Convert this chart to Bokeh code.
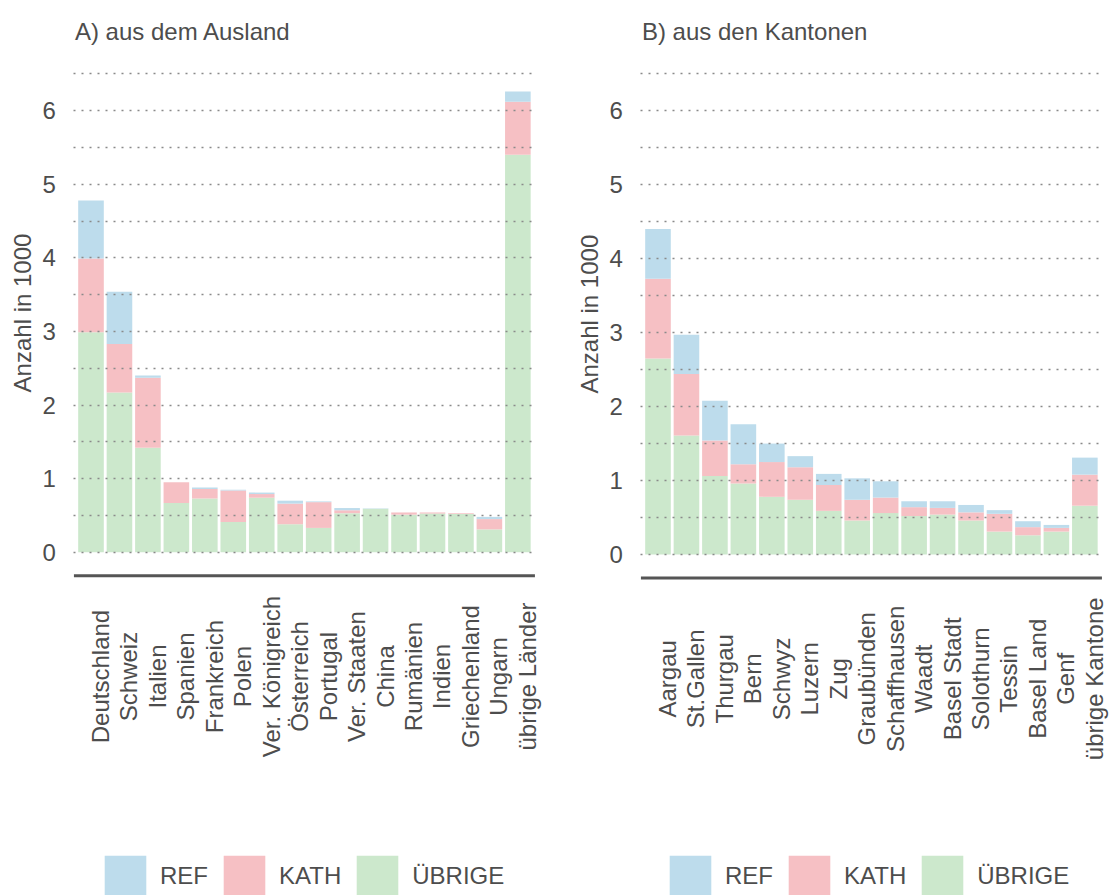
import math
from bokeh.plotting import figure
from bokeh.models import FixedTicker, Legend, LegendItem, ColumnDataSource, Range1d
from bokeh.layouts import row
from bokeh.embed import file_html
from bokeh.resources import INLINE
from bokeh.core.properties import value

# ---------------- data (Anzahl in 1000) ----------------
laender = ["Deutschland", "Schweiz", "Italien", "Spanien", "Frankreich", "Polen",
           "Ver. Königreich", "Österreich", "Portugal", "Ver. Staaten", "China",
           "Rumänien", "Indien", "Griechenland", "Ungarn", "übrige Länder"]
ausland_uebrige = [2.99, 2.17, 1.42, 0.67, 0.73, 0.41, 0.74, 0.38, 0.33, 0.53, 0.59, 0.51, 0.525, 0.52, 0.31, 5.40]
ausland_kath    = [1.00, 0.66, 0.95, 0.28, 0.13, 0.43, 0.05, 0.28, 0.35, 0.04, 0.00, 0.03, 0.015, 0.01, 0.14, 0.72]
ausland_ref     = [0.79, 0.71, 0.03, 0.00, 0.02, 0.01, 0.02, 0.04, 0.01, 0.03, 0.005, 0.00, 0.00, 0.00, 0.03, 0.14]

kantone = ["Aargau", "St.Gallen", "Thurgau", "Bern", "Schwyz", "Luzern", "Zug",
           "Graubünden", "Schaffhausen", "Waadt", "Basel Stadt", "Solothurn",
           "Tessin", "Basel Land", "Genf", "übrige Kantone"]
kantone_uebrige = [2.65, 1.61, 1.06, 0.96, 0.78, 0.74, 0.59, 0.46, 0.56, 0.52, 0.54, 0.46, 0.31, 0.26, 0.31, 0.66]
kantone_kath    = [1.08, 0.83, 0.48, 0.26, 0.47, 0.44, 0.35, 0.28, 0.21, 0.12, 0.09, 0.11, 0.24, 0.11, 0.05, 0.42]
kantone_ref     = [0.67, 0.53, 0.54, 0.54, 0.25, 0.15, 0.15, 0.29, 0.22, 0.08, 0.09, 0.10, 0.05, 0.08, 0.04, 0.23]

y_ticks = [0, 1, 2, 3, 4, 5, 6]
grid_ticks = [0, 0.5, 1, 1.5, 2, 2.5, 3, 3.5, 4, 4.5, 5, 5.5, 6, 6.5]
y_title = "Anzahl in 1000"
series = ["ÜBRIGE", "KATH", "REF"]
legend_order = ["REF", "KATH", "ÜBRIGE"]
colors = {"REF": "#bddcec", "KATH": "#f6c0c4", "ÜBRIGE": "#cce8cc"}

FONT = "Liberation Sans"
TXT = "#4d4d4d"
H = 895
PX_X = 28.457        # pixels per category step
PAD = 0.6            # plot area padding left of first / right of last bar (category units)


def panel(title, cats, ueb, kath, ref, width, first_center_px, zero_px, px_per_unit, legend_x):
    n = len(cats)
    x0 = -first_center_px / PX_X
    y1 = zero_px / px_per_unit
    y0 = -(H - zero_px) / px_per_unit
    src = ColumnDataSource(dict(pos=list(range(n)), cat=cats,
                                **{"ÜBRIGE": ueb, "KATH": kath, "REF": ref}))
    p = figure(x_range=Range1d(x0, x0 + width / PX_X), y_range=Range1d(y0, y1),
               frame_width=width, frame_height=H, min_border=0,
               output_backend="svg", toolbar_location=None)
    p.axis.visible = False
    p.xgrid.visible = False
    p.outline_line_color = None
    p.background_fill_color = "white"
    p.border_fill_color = "white"

    # dotted horizontal grid limited to the plotting area
    p.ygrid.ticker = FixedTicker(ticks=grid_ticks)
    p.ygrid.cross_bounds = (-PAD, n - 0.5)
    p.ygrid.grid_line_color = "#8a8a8a"
    p.ygrid.grid_line_width = 1.6
    p.ygrid.grid_line_dash = "2 6"
    p.ygrid.level = "overlay"

    rs = p.vbar_stack(series, x="pos", width=0.9, source=src,
                      color=[colors[s] for s in series], line_color=None)

    # x axis line (below the zero line)
    base_y = -23.5 / px_per_unit
    p.segment(x0=[-PAD], x1=[n - 1 + PAD], y0=[base_y], y1=[base_y],
              line_color="#555555", line_width=3)

    # y tick labels and y title
    p.text(x=[-PAD] * len(y_ticks), y=y_ticks, text=[str(t) for t in y_ticks],
           x_offset=-18, text_align="right", text_baseline="middle",
           text_font=value(FONT), text_font_size="24px", text_color=TXT)
    p.text(x=[-PAD], y=[(grid_ticks[0] + grid_ticks[-1]) / 2], text=[y_title],
           x_offset=-51, angle=math.pi / 2, text_align="center", text_baseline="alphabetic",
           text_font=value(FONT), text_font_size="24px", text_color=TXT)

    # panel title
    p.text(x=[-PAD], y=[grid_ticks[-1]], text=[title], x_offset=1, y_offset=-42,
           text_align="left", text_baseline="alphabetic",
           text_font=value(FONT), text_font_size="24px", text_color=TXT)

    # category labels, rotated, centred
    p.text(x="pos", y=0, text="cat", source=src, angle=math.pi / 2,
           x_offset=9.5, y_offset=124.3, text_align="center", text_baseline="alphabetic",
           text_font=value(FONT), text_font_size="24px", text_color=TXT)

    by_name = dict(zip(series, rs))
    legend = Legend(items=[LegendItem(label=k, renderers=[by_name[k]]) for k in legend_order],
                    orientation="horizontal", location=(legend_x, -7),
                    glyph_width=52, glyph_height=52, label_standoff=9, spacing=10,
                    padding=0, margin=0, border_line_color=None, background_fill_alpha=0,
                    label_text_font=FONT, label_text_font_size="24px", label_text_color=TXT)
    p.add_layout(legend)
    return p


left = panel("A) aus dem Ausland", laender, ausland_uebrige, ausland_kath, ausland_ref,
             width=565, first_center_px=90.5, zero_px=551.7, px_per_unit=73.6, legend_x=99)
right = panel("B) aus den Kantonen", kantone, kantone_uebrige, kantone_kath, kantone_ref,
              width=546, first_center_px=92.5, zero_px=554.0, px_per_unit=73.95, legend_x=99)

layout = row(left, right, spacing=0)
open("out.html", "w").write(file_html(layout, INLINE))
